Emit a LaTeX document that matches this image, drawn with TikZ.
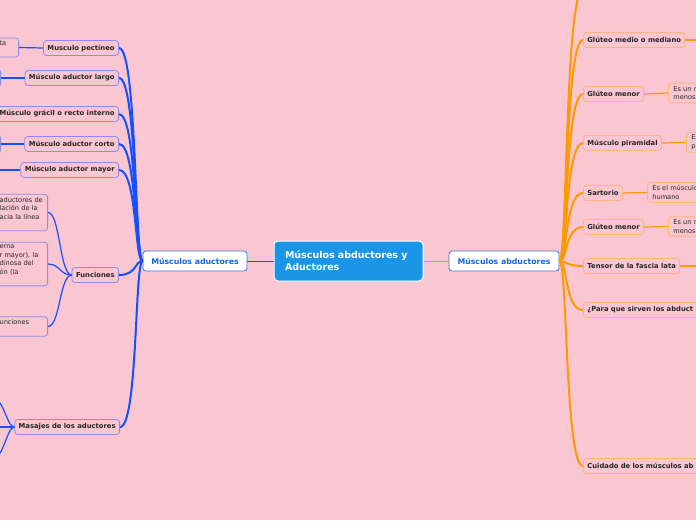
\documentclass[tikz,border=0pt]{standalone}
\usepackage{fontspec}
\setmainfont{DejaVu Sans}
\definecolor{bgpink}{HTML}{F9C6D1}
\definecolor{adublue}{HTML}{1450FF}
\definecolor{abdorange}{HTML}{FF9900}
\definecolor{topicblue}{HTML}{1A96E8}
\definecolor{lilac}{HTML}{8A8CF2}
\definecolor{peach}{HTML}{FFB47A}
\definecolor{maintxt}{HTML}{1366E8}
\definecolor{mainborder}{HTML}{3F72E6}
\begin{document}
\begin{tikzpicture}
        [x=1pt, y=-1pt,
        topic/.style={rectangle, rounded corners=4pt, fill=topicblue, draw=white, line width=1pt, text=white, font=\fontsize{9.5}{12}\selectfont\bfseries, align=left, text width=127pt, inner xsep=11pt, minimum height=40pt},
        main/.style={rectangle, rounded corners=3pt, fill=white, draw=mainborder, line width=0.8pt, text=maintxt, font=\fontsize{7.8}{9}\selectfont\bfseries, minimum height=20pt},
        subL/.style={rectangle, rounded corners=3pt, draw=lilac, line width=0.8pt, text=black!85, font=\fontsize{6.8}{8}\selectfont\bfseries, minimum height=15pt, inner xsep=4pt, anchor=east},
        subR/.style={subL, draw=peach, anchor=west},
        leafL/.style={rectangle, rounded corners=3pt, draw=lilac, line width=0.8pt, text=black!85, font=\fontsize{6.6}{8.5}\selectfont, align=left, inner xsep=5pt, inner ysep=3pt, anchor=east},
        leafR/.style={leafL, draw=peach, anchor=west},
        adu/.style={adublue, line width=2pt},
        aduthin/.style={adublue, line width=1.2pt},
        abd/.style={abdorange, line width=2pt},
        abdthin/.style={abdorange, line width=1.2pt}]

        \useasboundingbox (0,0) rectangle (696,520);
        \clip (0,0) rectangle (696,520);
        \fill[bgpink] (0,0) rectangle (696,520);

        \node[topic] (central) at (348.5, 261) {Músculos abductores y Aductores};
        \node[main, minimum width=104pt] (aductores) at (195, 261) {Músculos aductores};
        \node[main, minimum width=110pt] (abductores) at (504, 261) {Músculos abductores};

        % aductores
        \node[subL] (pect) at (119, 48) {Musculo pectíneo};
        \node[subL] (largo) at (119, 78) {Músculo aductor largo};
        \node[subL] (gracil) at (119, 114) {Músculo grácil o recto interno};
        \node[subL] (corto) at (119, 144) {Músculo aductor corto};
        \node[subL] (mayor) at (119, 170) {Músculo aductor mayor};
        \node[subL] (func) at (119, 275) {Funciones};
        \node[subL] (masaj) at (120, 427) {Masajes de los aductores};

        \node[leafL, text width=14pt] (pectL) at (19, 47.5) {\mbox{ta}\\\mbox{}};
        \node[leafL, text width=20pt, minimum height=18pt] (largoL) at (1, 78) {};
        \node[leafL, text width=20pt, minimum height=18pt] (cortoL) at (1, 144) {};
        \coordinate (mayorL) at (-8, 170);
        \node[leafL, text width=43pt] (func1) at (48, 212.5) {\mbox{aductores de}\\\mbox{lación de la}\\\mbox{acia la línea}\\\mbox{}};
        \node[leafL, text width=43pt] (func2) at (48, 264) {\mbox{erna}\\\mbox{r mayor), la}\\\mbox{dinosa del}\\\mbox{ón (la}\\\mbox{}};
        \node[leafL, text width=43pt] (func3) at (48, 326.5) {\mbox{unciones}\\\mbox{}};
        \coordinate (masaj1) at (-12, 395);
        \coordinate (masaj2) at (-12, 427);
        \coordinate (masaj3) at (-12, 462);

        % abductores
        \coordinate (topR) at (583, -10);
        \node[subR] (gmed) at (583, 40) {Glúteo medio o mediano};
        \node[subR] (gmen) at (583, 94) {Glúteo menor};
        \node[subR] (pira) at (583, 143) {Músculo piramidal};
        \node[subR] (sart) at (583, 193) {Sartorio};
        \node[subR] (gmen2) at (583, 227) {Glúteo menor};
        \node[subR] (tens) at (583, 266) {Tensor de la fascia lata};
        \node[subR, text width=140pt, align=left] (para) at (583, 310) {¿Para que sirven los abduct};
        \node[subR, text width=140pt, align=left] (cuid) at (583, 466) {Cuidado de los músculos ab};

        \coordinate (gmedR) at (710, 40);
        \node[leafR, text width=40pt] (gmenR) at (668, 93) {Es un m\\menos};
        \node[leafR, text width=40pt] (piraR) at (686, 142.5) {Es\\p};
        \node[leafR, text width=60pt] (sartR) at (647, 192.5) {Es el músculo\\humano};
        \node[leafR, text width=40pt] (gmen2R) at (668, 226.5) {Es un m\\menos};
        \coordinate (tensR) at (710, 266);

        % tree edges
        \draw[adublue, line width=0.8pt] (central.west) -- (aductores.east);
        \draw[abdorange, line width=0.8pt] (central.east) -- (abductores.west);

        \foreach \n in {pect, largo, gracil, corto, mayor, func, masaj}
            \draw[adu] (aductores.west) .. controls +(-8,0) and +(18,0) .. (\n.east);
        \foreach \n in {topR, gmed, gmen, pira, sart, gmen2, tens, para, cuid}
            \draw[abd] (abductores.east) .. controls +(8,0) and +(-18,0) .. (\n.west);

        \draw[aduthin] (pect.west) -- (pectL.east);
        \draw[aduthin] (largo.west) -- (largoL.east);
        \draw[aduthin] (corto.west) -- (cortoL.east);
        \draw[aduthin] (mayor.west) -- (mayorL);
        \foreach \n in {func1, func2, func3}
            \draw[aduthin] (func.west) .. controls +(-12,0) and +(12,0) .. (\n.east);
        \foreach \n in {masaj1, masaj2, masaj3}
            \draw[aduthin] (masaj.west) .. controls +(-8,0) and +(16,0) .. (\n);

        \draw[abdthin] (gmed.east) -- (gmedR);
        \draw[abdthin] (gmen.east) -- (gmenR.west);
        \draw[abdthin] (pira.east) -- (piraR.west);
        \draw[abdthin] (sart.east) -- (sartR.west);
        \draw[abdthin] (gmen2.east) -- (gmen2R.west);
        \draw[abdthin] (tens.east) -- (tensR);

\end{tikzpicture}
\end{document}
